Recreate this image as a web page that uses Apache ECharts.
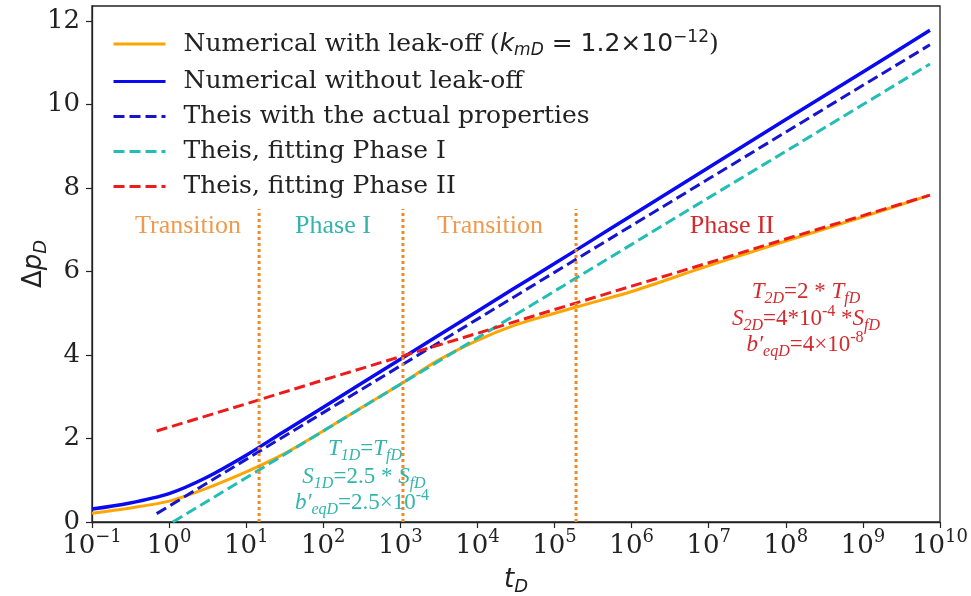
<!DOCTYPE html>
<html><head><meta charset="utf-8">
<script src="https://cdn.jsdelivr.net/npm/echarts@6/dist/echarts.min.js"></script>
<style>html,body{margin:0;padding:0;background:#fff}#c{width:971px;height:596px}</style>
</head><body><div id="c"></div>
<script>
// ---- data ----
const tNum     = [0.1, 0.3, 1, 3, 10, 30, 100, 300, 1e3, 3e3, 1e4, 3e4, 1e5, 3e5, 1e6, 1e7, 1e8, 1e9, 7.4e9];
const leakOff  = [0.21, 0.33, 0.50, 0.80, 1.20, 1.62, 2.18, 2.72, 3.30, 3.86, 4.35, 4.71, 5.00, 5.25, 5.52, 6.14, 6.73, 7.31, 7.83];
const noLeak   = [0.31, 0.45, 0.68, 1.06, 1.60, 2.15, 2.75, 3.30, 3.90, 4.45, 5.05, 5.60, 6.19, 6.74, 7.34, 8.49, 9.64, 10.78, 11.78];
const tTheisA  = [0.69, 1, 10, 100, 1e3, 1e4, 1e5, 1e6, 1e7, 1e8, 1e9, 7.4e9];
const theisA   = [0.20, 0.38, 1.50, 2.62, 3.74, 4.86, 5.98, 7.10, 8.22, 9.34, 10.46, 11.43];
const tPhase1  = [1.12, 10, 100, 1e3, 1e4, 1e5, 1e6, 1e7, 1e8, 1e9, 7.4e9];
const phase1   = [0.00, 1.06, 2.18, 3.30, 4.41, 5.53, 6.65, 7.77, 8.88, 10.00, 10.97];
const tPhase2  = [0.69, 1, 10, 100, 1e3, 1e4, 1e5, 1e6, 1e7, 1e8, 1e9, 7.4e9];
const phase2   = [2.18, 2.27, 2.83, 3.40, 3.96, 4.52, 5.09, 5.65, 6.21, 6.78, 7.34, 7.83];
const dividerT = [14.7, 1080, 1.9e5];
const dividerTop = 7.5;
const xTickVals = [0.1, 1, 10, 100, 1e3, 1e4, 1e5, 1e6, 1e7, 1e8, 1e9, 1e10];
const yTickVals = [0, 2, 4, 6, 8, 10, 12];
const yMax = 12.36;
const names = ['Numerical with leak-off', 'Numerical without leak-off', 'Theis with the actual properties', 'Theis, fitting Phase I', 'Theis, fitting Phase II'];

// ---- styling ----
const SERIF = 'DejaVu Serif', SANS = 'DejaVu Sans', TNR = 'Liberation Serif';
const INK = '#222';
const pairs = (xs, ys) => xs.map((x, i) => [x, ys[i]]);
const chart = echarts.init(document.getElementById('c'), null, {renderer: 'canvas'});

function lineSeries(name, data, color, width, type, z) {
  return {name, type: 'line', data, showSymbol: false, symbol: 'none', smooth: false, z,
    lineStyle: {color, width, type}, itemStyle: {color}, emphasis: {disabled: true}};
}
const series = [
  Object.assign(lineSeries(names[0], pairs(tNum, leakOff), '#FFA500', 3, 'solid', 2), {smooth: 0.3}),
  Object.assign(lineSeries(names[1], pairs(tNum, noLeak), '#0a0af2', 3.5, 'solid', 3), {smooth: 0.3}),
  lineSeries(names[2], pairs(tTheisA, theisA), '#1515d0', 3, [11, 5], 4),
  lineSeries(names[3], pairs(tPhase1, phase1), '#22bdb5', 3, [11, 5], 5),
  lineSeries(names[4], pairs(tPhase2, phase2), '#ee1b1b', 3, [11, 5], 6)
];
dividerT.forEach((t, i) => series.push({
  name: 'div' + i, type: 'line', data: [[t, 0], [t, dividerTop]], showSymbol: false, symbol: 'none', z: 8,
  lineStyle: {color: '#f08a28', width: 3, type: [3, 3]}, emphasis: {disabled: true}, silent: true
}));

function rt(text, x, y, color, rich, size) {
  const base = {fontFamily: TNR, fontSize: size, lineHeight: 30, fill: color};
  const r = {};
  for (const k in rich) r[k] = Object.assign({}, base, rich[k]);
  return {type: 'text', x, y, z: 50, style: {text, align: 'center', verticalAlign: 'middle', textAlign: 'center', textVerticalAlign: 'middle', fill: color, fontFamily: TNR, fontSize: size, rich: r}};
}
const annRich = {
  i: {fontStyle: 'italic'},
  r: {},
  s: {fontStyle: 'italic', fontSize: 16, lineHeight: 16, verticalAlign: 'bottom'},
  p: {fontSize: 16, lineHeight: 16, verticalAlign: 'top'}
};
const TEAL = '#33b4ad', RED = '#d42a2e', ORG = '#ef9a4e';
const graphics = [
  rt('{r|Transition}', 188, 226, ORG, {r: {}}, 26),
  rt('{r|Phase I}', 333, 226, '#36b3ae', {r: {}}, 26),
  rt('{r|Transition}', 490, 226, ORG, {r: {}}, 26),
  rt('{r|Phase II}', 732, 226, RED, {r: {}}, 26),
  rt('{i|T}{s|1D}{r|=}{i|T}{s|fD}', 365, 449, TEAL, annRich, 23),
  rt('{i|S}{s|1D}{r|=2.5 * }{i|S}{s|fD}', 364, 477, TEAL, annRich, 23),
  rt('{i|b′}{s|eqD}{r|=2.5×10}{p|-4}', 362, 503, TEAL, annRich, 23),
  rt('{i|T}{s|2D}{r|=2 * }{i|T}{s|fD}', 806, 292, RED, annRich, 23),
  rt('{i|S}{s|2D}{r|=4*10}{p|-4}{r| *}{i|S}{s|fD}', 806, 319, RED, annRich, 23),
  rt('{i|b′}{s|eqD}{r|=4×10}{p|-8}', 805, 345, RED, annRich, 23)
];

const option = {
  animation: false,
  backgroundColor: '#fff',
  grid: {left: 92, right: 31, top: 6, bottom: 74, outerBoundsMode: 'none', containLabel: false,
         show: true, borderColor: INK, borderWidth: 1.3, backgroundColor: 'transparent'},
  xAxis: {
    type: 'log', logBase: 10, min: 0.1, max: 1e10, splitNumber: 11,
    axisLine: {show: true, onZero: false, lineStyle: {color: INK, width: 1.3}},
    axisTick: {show: true, inside: false, length: 6, lineStyle: {color: INK, width: 1.2}, customValues: xTickVals},
    minorTick: {show: false}, splitLine: {show: false},
    axisLabel: {
      margin: 6, customValues: xTickVals,
      formatter: v => { const e = Math.round(Math.log10(v)); return '{m|10}{e|' + (e < 0 ? '−' + (-e) : e) + '}'; },
      rich: {m: {fontFamily: SERIF, fontSize: 26, lineHeight: 36, color: INK},
             e: {fontFamily: SERIF, fontSize: 18, lineHeight: 20, verticalAlign: 'top', color: INK}}
    },
    name: '{a|t}{b|D}', nameLocation: 'middle', nameGap: 42, nameMoveOverlap: false,
    nameTextStyle: {rich: {a: {fontFamily: SANS, fontStyle: 'italic', fontSize: 26, lineHeight: 32, color: INK},
                           b: {fontFamily: SANS, fontStyle: 'italic', fontSize: 18, lineHeight: 18, verticalAlign: 'bottom', color: INK}}}
  },
  yAxis: {
    type: 'value', min: 0, max: yMax, interval: 2,
    axisLine: {show: true, lineStyle: {color: INK, width: 1.3}},
    axisTick: {show: true, inside: false, length: 6, lineStyle: {color: INK, width: 1.2}, customValues: yTickVals},
    splitLine: {show: false},
    axisLabel: {margin: 12, customValues: yTickVals, fontFamily: SERIF, fontSize: 26, color: INK,
      formatter: v => (Math.abs(v - Math.round(v)) < 1e-6 && Math.round(v) % 2 === 0) ? String(Math.round(v)) : ''},
    name: '{d|Δ}{a|p}{b|D}', nameLocation: 'middle', nameGap: 42, nameRotate: 90, nameMoveOverlap: false,
    nameTextStyle: {rich: {d: {fontFamily: SANS, fontSize: 26, lineHeight: 32, color: INK},
                           a: {fontFamily: SANS, fontStyle: 'italic', fontSize: 26, lineHeight: 32, color: INK},
                           b: {fontFamily: SANS, fontStyle: 'italic', fontSize: 18, lineHeight: 18, verticalAlign: 'bottom', color: INK}}}
  },
  legend: {
    data: names, orient: 'vertical', left: 107, top: 24, itemWidth: 52, itemHeight: 14, itemGap: 10,
    selectedMode: false,
    itemStyle: {opacity: 0, borderWidth: 0},
    lineStyle: {width: 3},
    formatter: n => n === names[0]
      ? '{t|Numerical with leak-off (}{mi|k}{ms|mD}{m| = 1.2×10}{mp|−12}{t|)}'
      : '{t|' + n + '}',
    textStyle: {
      padding: [0, 0, 0, 13],
      rich: {
        t: {fontFamily: SERIF, fontSize: 25, lineHeight: 30, color: INK},
        m: {fontFamily: SANS, fontSize: 25, lineHeight: 30, color: INK},
        mi: {fontFamily: SANS, fontStyle: 'italic', fontSize: 25, lineHeight: 30, color: INK},
        ms: {fontFamily: SANS, fontStyle: 'italic', fontSize: 17, lineHeight: 17, verticalAlign: 'bottom', color: INK},
        mp: {fontFamily: SANS, fontSize: 17, lineHeight: 17, verticalAlign: 'top', color: INK}
      }
    }
  },
  graphic: graphics,
  series
};
chart.setOption(option);
</script>
</body></html>
